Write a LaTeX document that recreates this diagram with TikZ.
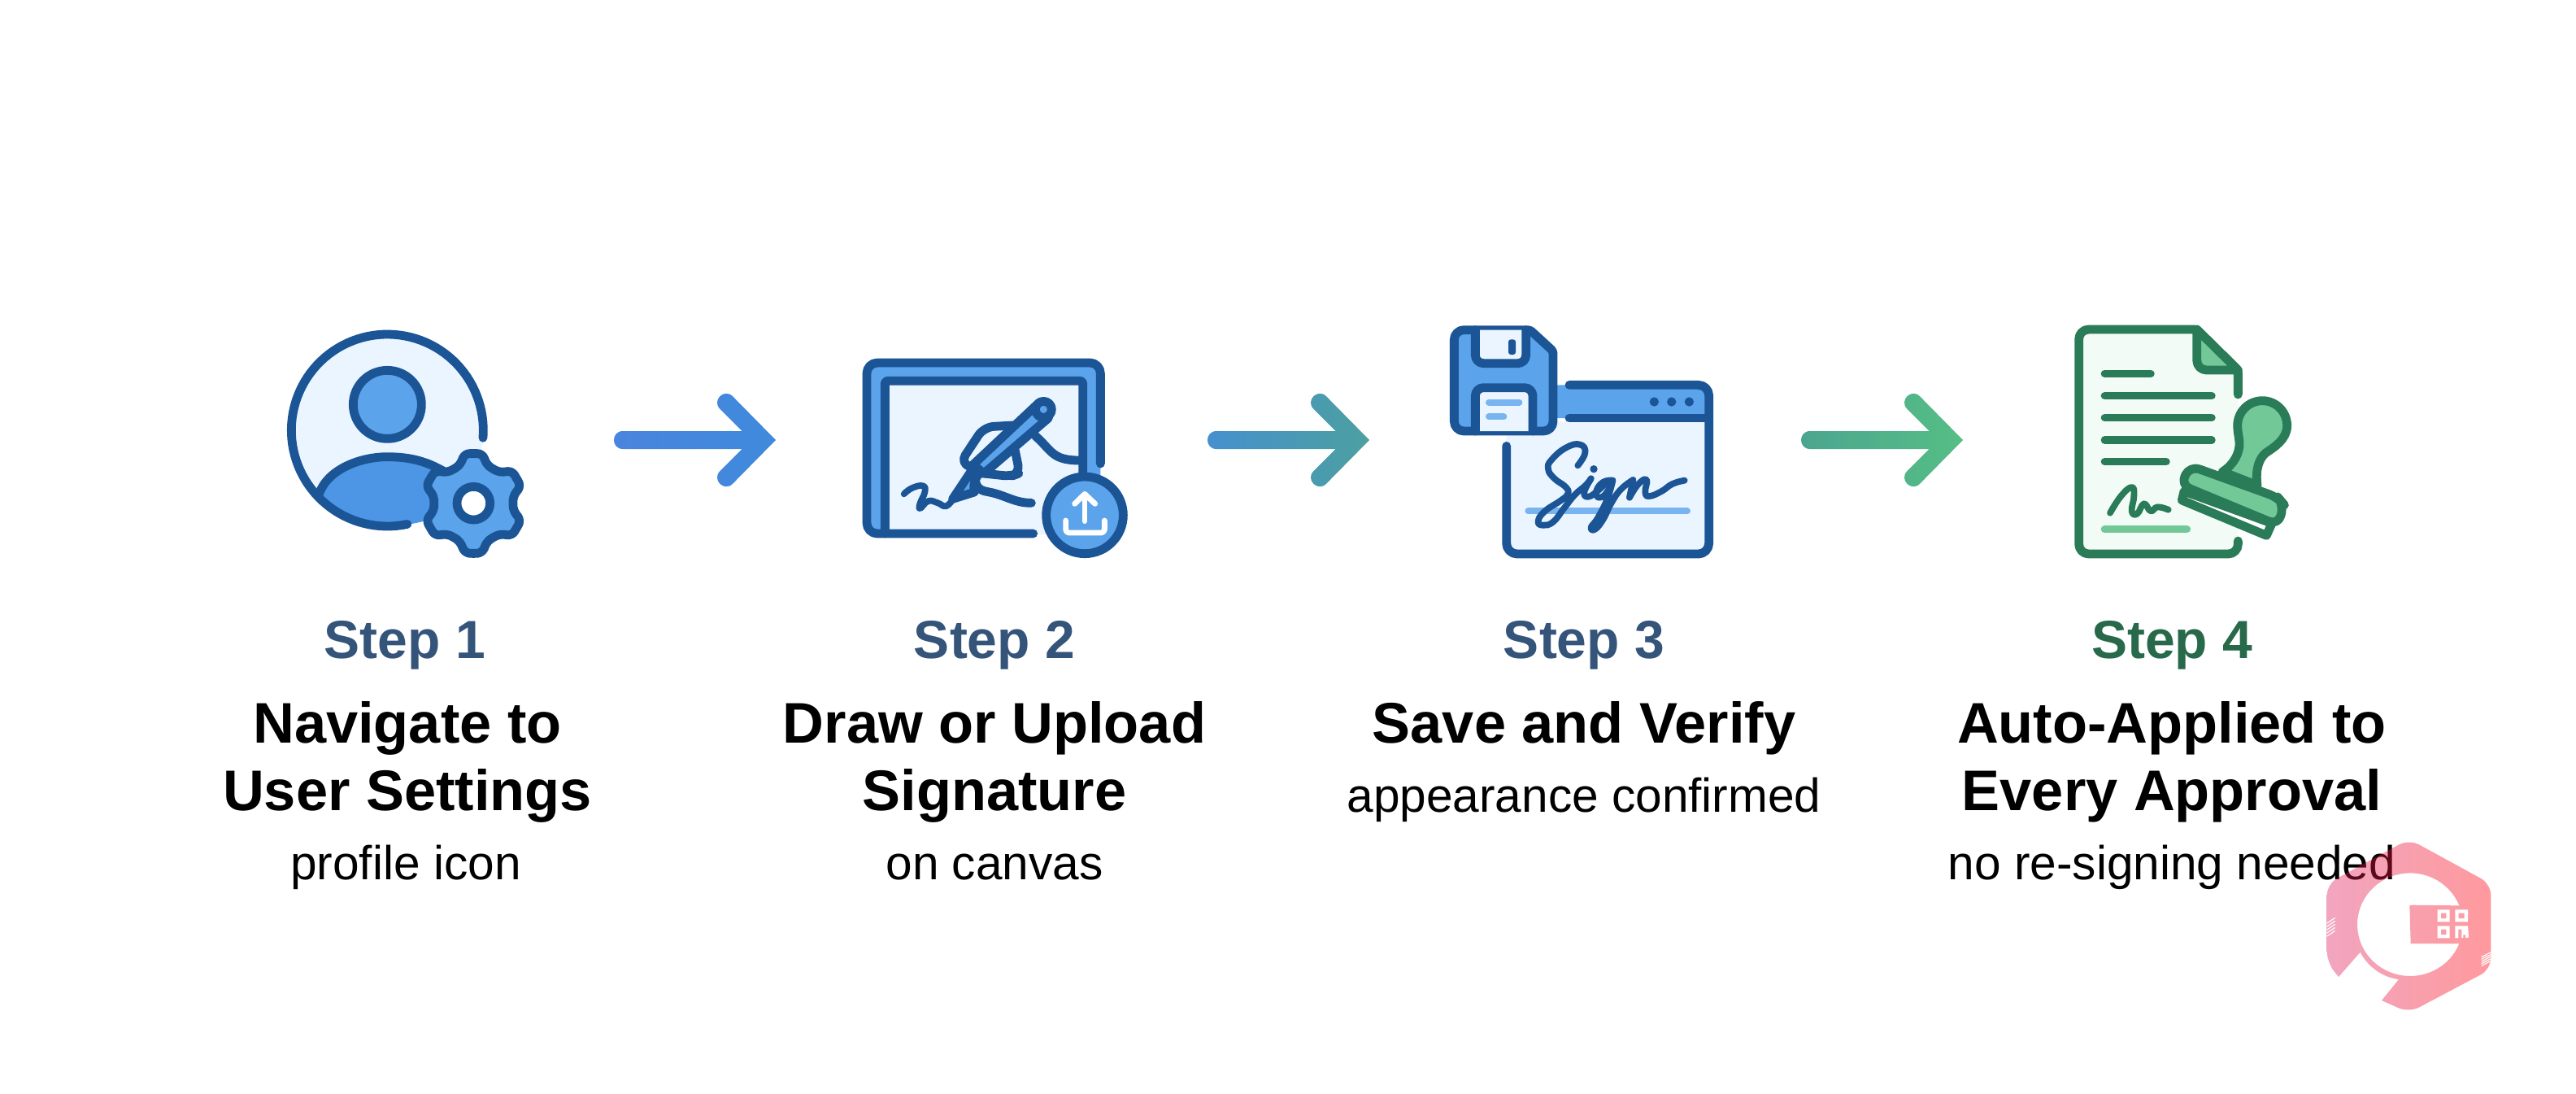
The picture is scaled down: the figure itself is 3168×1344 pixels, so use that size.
\documentclass[tikz,border=0pt]{standalone}
\usepackage{fontspec}
\setmainfont{Liberation Sans}
\usetikzlibrary{calc}
\definecolor{dk}{HTML}{1B5596}
\definecolor{md}{HTML}{5BA3EA}
\definecolor{bd}{HTML}{4D96E5}
\definecolor{lt}{HTML}{EBF5FF}
\definecolor{ul}{HTML}{78B4F0}
\definecolor{gd}{HTML}{2A7B57}
\definecolor{gm}{HTML}{72C897}
\definecolor{gl}{HTML}{F3FBF7}
\definecolor{stepblue}{HTML}{34547A}
\definecolor{stepgreen}{HTML}{27694A}
\definecolor{a1l}{HTML}{4A85DE}\definecolor{a1r}{HTML}{3F8ADC}
\definecolor{a2l}{HTML}{4690CF}\definecolor{a2r}{HTML}{4CA0A0}
\definecolor{a3l}{HTML}{4CA58F}\definecolor{a3r}{HTML}{55BE85}
\definecolor{wml}{RGB}{222,32,95}
\definecolor{wmr}{RGB}{255,2,12}
\definecolor{wmp}{HTML}{FA9EA8}
\tikzset{
  base/.style={anchor=base,inner sep=0pt,text=black},
  stepnum/.style={base,font=\bfseries\fontsize{33}{40}\selectfont,text=stepblue},
  title/.style={base,font=\bfseries\fontsize{35.2}{42}\selectfont},
  sub/.style={base,font=\fontsize{29.3}{35}\selectfont},
  icon/.style={line width=5.4pt,line cap=round,line join=round},
  thinner/.style={line width=3.9pt,line cap=round,line join=round},
  zoomed/.style={shift={#1},x=0.166667pt,y=-0.166667pt},
}
\newcommand\flowarrow[4]{%
  \path[left color=#3,right color=#4]
    ($(#1)+(11,-11)$) .. controls ($(#1)+(-3.7,-11)$) and ($(#1)+(-3.7,11)$) .. ($(#1)+(11,11)$)
    -- ($(#2)+(-41.4,11)$) -- ($(#2)+(-68.6,38.2)$)
    .. controls ($(#2)+(-79,48.6)$) and ($(#2)+(-63.4,64.2)$) .. ($(#2)+(-53,53.8)$)
    -- (#2) -- ($(#2)+(-53,-53.8)$)
    .. controls ($(#2)+(-63.4,-64.2)$) and ($(#2)+(-79,-48.6)$) .. ($(#2)+(-68.6,-38.2)$)
    -- ($(#2)+(-41.4,-11)$) -- cycle;}
\begin{document}
\begin{tikzpicture}[x=0.5pt,y=-0.5pt]
\useasboundingbox (0,0) rectangle (3168,1344);
\fill[white] (0,0) rectangle (3168,1344);

% arrows
\coordinate (a1s) at (755,541);  \coordinate (a1t) at (954,541);
\coordinate (a2s) at (1485,541); \coordinate (a2t) at (1684,541);
\coordinate (a3s) at (2215,541); \coordinate (a3t) at (2414,541);
\flowarrow{a1s}{a1t}{a1l}{a1r}
\flowarrow{a2s}{a2t}{a2l}{a2r}
\flowarrow{a3s}{a3t}{a3l}{a3r}

% ---------- icon 1: user + gear
\begin{scope}[zoomed={(320,380)}]
  \fill[lt] (469,447) circle (354);
  \fill[bd] (218,680) .. controls (250,590) and (370,545) .. (469,545)
     .. controls (560,545) and (620,565) .. (680,600) -- (700,700) -- (640,770)
     .. controls (590,790) and (520,800) .. (469,801)
     .. controls (370,800) and (280,745) .. (218,680) -- cycle;
  \draw[icon,dk] plot[domain=-4.5:282,samples=90] ({469+354*cos(\x)},{447-354*sin(\x)});
  \draw[icon,dk,fill=md] (469,352) circle (126);
  \draw[icon,dk] (218,680) .. controls (250,590) and (370,545) .. (469,545)
     .. controls (560,545) and (620,565) .. (680,600);
  \draw[icon,dk,fill=md,rounded corners=3pt]
    ($(787,716)+(90:186)$)
    \foreach \a in {90,30,-30,-90,-150,-210}{
       -- ($(787,716)+({\a-10}:186)$) -- ($(787,716)+({\a-20}:148)$)
       -- ($(787,716)+({\a-40}:148)$) -- ($(787,716)+({\a-50}:186)$)}
    -- cycle;
  \draw[icon,dk,fill=white] (787,716) circle (61);
\end{scope}

% ---------- icon 2: tablet + pen + upload
\begin{scope}[zoomed={(1030,410)}]
  \fill[md,rounded corners=6.5pt] (108,738) -- (108,108) -- (970,108) -- (970,560) -- (890,560) -- (890,738) -- cycle;
  \fill[lt] (175,175) rectangle (905,738);
  \draw[icon,dk,rounded corners=6.5pt] (722,738) -- (108,738) -- (108,108) -- (970,108) -- (970,480);
  \draw[icon,dk,rounded corners=1.5pt] (175,738) -- (175,175) -- (905,175) -- (905,520);
  % hand
  \draw[icon,dk,rounded corners=6pt] (490,492) -- (452,478) -- (540,345) -- (665,338);
  \draw[icon,dk] (730,378) .. controls (790,430) and (790,468) .. (892,468);
  \draw[icon,dk,rounded corners=5pt] (655,432) -- (672,515) -- (640,527) -- (530,515);
  \draw[icon,dk] (508,520) .. controls (505,560) and (520,578) .. (550,583)
     .. controls (620,595) and (650,625) .. (715,625);
  % pen tip
  \draw[icon,dk,fill=md] (495,505) -- (425,610) -- (505,585) .. controls (500,560) and (505,535) .. (525,515) -- cycle;
  % pen body
  \draw[icon,dk,fill=md] (500,484) -- (733,265) -- (778,312) -- (540,516) -- cycle;
  \draw[icon,dk,fill=md] (760,280) circle (30);
  % signature
  \draw[thinner,dk] plot[smooth,tension=0.8] coordinates {(245,592) (275,570) (315,562) (322,585) (305,625) (305,645) (335,618) (370,625) (400,637) (425,612)};
  % upload badge
  \draw[icon,dk,fill=md] (912,670) circle (142);
  \draw[line width=3.4pt,line cap=round,line join=round,white] (912,692) -- (912,598);
  \draw[line width=3.4pt,line cap=round,line join=round,white] (875,628) -- (912,592) -- (950,628);
  \draw[line width=3.4pt,line cap=round,line join=round,white,rounded corners=2pt] (842,690) -- (842,735) -- (985,735) -- (985,690);
\end{scope}

% ---------- icon 3: floppy + window
\begin{scope}[zoomed={(1760,380)}]
  \fill[lt,rounded corners=6.5pt] (278,420) -- (278,903) -- (1025,903) -- (1025,402) -- cycle;
  \fill[md,rounded corners=6.5pt] (430,280) -- (1025,280) -- (1025,402) -- (430,402) -- cycle;
  \draw[icon,dk,rounded corners=6.5pt] (510,280) -- (1025,280) -- (1025,903) -- (278,903) -- (278,505);
  \draw[icon,dk] (510,402) -- (1025,402);
  \foreach \x in {823,887,952}{\fill[dk] (\x,342) circle (17);}
  \draw[line width=4pt,line cap=round,ul] (358,745) -- (945,745);
  \draw[thinner,dk] plot[smooth,tension=0.8] coordinates {(541,577) (568,530) (550,500) (500,510) (445,555) (432,590) (455,625) (495,655) (505,680) (480,705) (420,745) (395,782) (412,797) (450,785) (490,735) (530,685) (570,650) (590,625)};
  \draw[thinner,dk] plot[smooth,tension=0.8] coordinates {(590,625) (565,675) (580,692) (615,670) (645,640)};
  \draw[thinner,dk] plot[smooth,tension=0.8] coordinates {(670,632) (635,638) (610,670) (618,695) (645,680) (670,632)};
  \draw[thinner,dk] plot[smooth,tension=0.8] coordinates {(670,632) (650,700) (615,770) (590,805) (605,812) (635,775) (665,715) (700,665) (745,630)};
  \draw[thinner,dk] (745,630) -- (732,695);
  \draw[thinner,dk] plot[smooth,tension=0.8] coordinates {(732,695) (765,645) (795,630) (790,675) (805,690) (850,672) (890,645) (935,632)};
  \fill[dk] (600,590) circle (14);
  % floppy
  \draw[icon,dk,fill=md] [rounded corners=6pt] (85,250) -- (85,77) [rounded corners=1.5pt] -- (365,77) -- (450,155) [rounded corners=6pt] -- (450,450) -- (85,450) -- cycle;
  \draw[icon,dk,fill=lt,rounded corners=5pt] (163,77) -- (163,200) -- (350,200) -- (350,77);
  \fill[dk,rounded corners=1.5pt] (285,112) rectangle (312,168);
  \draw[icon,dk,fill=lt,rounded corners=5pt] (163,450) -- (163,290) -- (375,290) -- (375,450);
  \draw[line width=4pt,line cap=round,ul] (213,344) -- (325,344);
  \draw[line width=4pt,line cap=round,ul] (213,397) -- (268,397);
\end{scope}

% ---------- icon 4: document + stamp
\begin{scope}[zoomed={(2530,380)}]
  \fill[gl,rounded corners=6pt] (667,903) -- (80,903) -- (80,75) -- (515,75) -- (667,225) -- cycle;
  \draw[icon,gd] (667,315) [rounded corners=1.5pt] -- (667,225) -- (515,75) [rounded corners=6pt] -- (80,75) -- (80,903) -- (667,903) -- (667,855);
  \draw[icon,gd,fill=gm] [rounded corners=6pt] (515,75) -- (515,225) [sharp corners] -- (667,225) -- cycle;
  \foreach \y/\e in {238/345,320/570,401/570,483/570,563/402}{
    \draw[line width=4.7pt,line cap=round,gd] (175,\y) -- (\e,\y);}
  \draw[thinner,gd] plot[smooth,tension=0.8] coordinates {(195,752) (235,690) (275,657) (283,690) (275,745) (295,755) (320,718) (345,745) (370,730) (410,740)};
  \draw[line width=4.7pt,line cap=round,gm] (175,812) -- (478,812);
  % stamp
  \draw[icon,gd,fill=gm] (610,600) .. controls (650,575) and (675,530) .. (672,490)
     .. controls (670,470) and (665,450) .. (665,430)
     .. controls (665,380) and (705,338) .. (757,338)
     .. controls (808,338) and (848,380) .. (848,430)
     .. controls (848,480) and (800,510) .. (770,530)
     .. controls (745,550) and (730,590) .. (738,650) -- cycle;
  \draw[icon,gd,fill=white] (468,672) -- (460,705) -- (772,835) -- (792,790) -- cycle;
  \draw[icon,gd,fill=gm,rounded corners=6pt] (455,648) -- (490,578) -- (815,695) -- (836,720) -- (815,797) -- cycle;
\end{scope}

% ---------- text
\node[stepnum] (s1) at (498,809) {Step 1};
\node[title] (t1a) at (501,913) {Navigate to};
\node[title] (t1b) at (501,996) {User Settings};
\node[sub] (d1) at (499,1081) {profile icon};
\node[stepnum] (s2) at (1223,809) {Step 2};
\node[title] (t2a) at (1223,913) {Draw or Upload};
\node[title] (t2b) at (1223,996) {Signature};
\node[sub] (d2) at (1223,1081) {on canvas};
\node[stepnum] (s3) at (1948,809) {Step 3};
\node[title] (t3a) at (1948,913) {Save and Verify};
\node[sub] (d3) at (1948,998) {appearance confirmed};
\node[stepnum,text=stepgreen] (s4) at (2671,809) {Step 4};
\node[title] (t4a) at (2671,913) {Auto-Applied to};
\node[title] (t4b) at (2671,996) {Every Approval};
\node[sub] (d4) at (2671,1081) {no re-signing needed};

% ---------- watermark
\begin{scope}[zoomed={(2820,1000)}]
  \path[left color=wml,right color=wmr,opacity=0.4,even odd rule]
    (168,603) [rounded corners=7pt] -- (125,550) -- (125,260) -- (428,95) -- (730,260) -- (730,575) -- (428,735) [sharp corners] -- (327,690)
    -- (390,612) .. controls (330,605) and (275,565) .. (248,512) -- cycle
    plot[domain=-21.6:-338.4,samples=60] ({432+195*cos(\x)},{410-190*sin(\x)})
    -- (440,338) -- (430,340) -- (434,480) -- cycle;
  \fill[white] (533,355) rectangle (578,400) (598,355) rectangle (645,400) (533,415) rectangle (578,460);
  \fill[white] (598,415) -- (645,415) -- (648,458) -- (598,460) -- cycle;
  \fill[wmp] (546,368) rectangle (565,387) (611,368) rectangle (632,387) (546,428) rectangle (565,447);
  \fill[wmp] (610,428) rectangle (622,460) (628,448) rectangle (636,460);
  \foreach \i in {0,1,2,3,4}{
    \draw[white,line width=0.6pt] (125,{405+\i*12}) -- (155,{385+\i*12});
    \draw[white,line width=0.6pt] (695,{530+\i*8}) -- (730,{512+\i*8});}
\end{scope}
\end{tikzpicture}
\end{document}
